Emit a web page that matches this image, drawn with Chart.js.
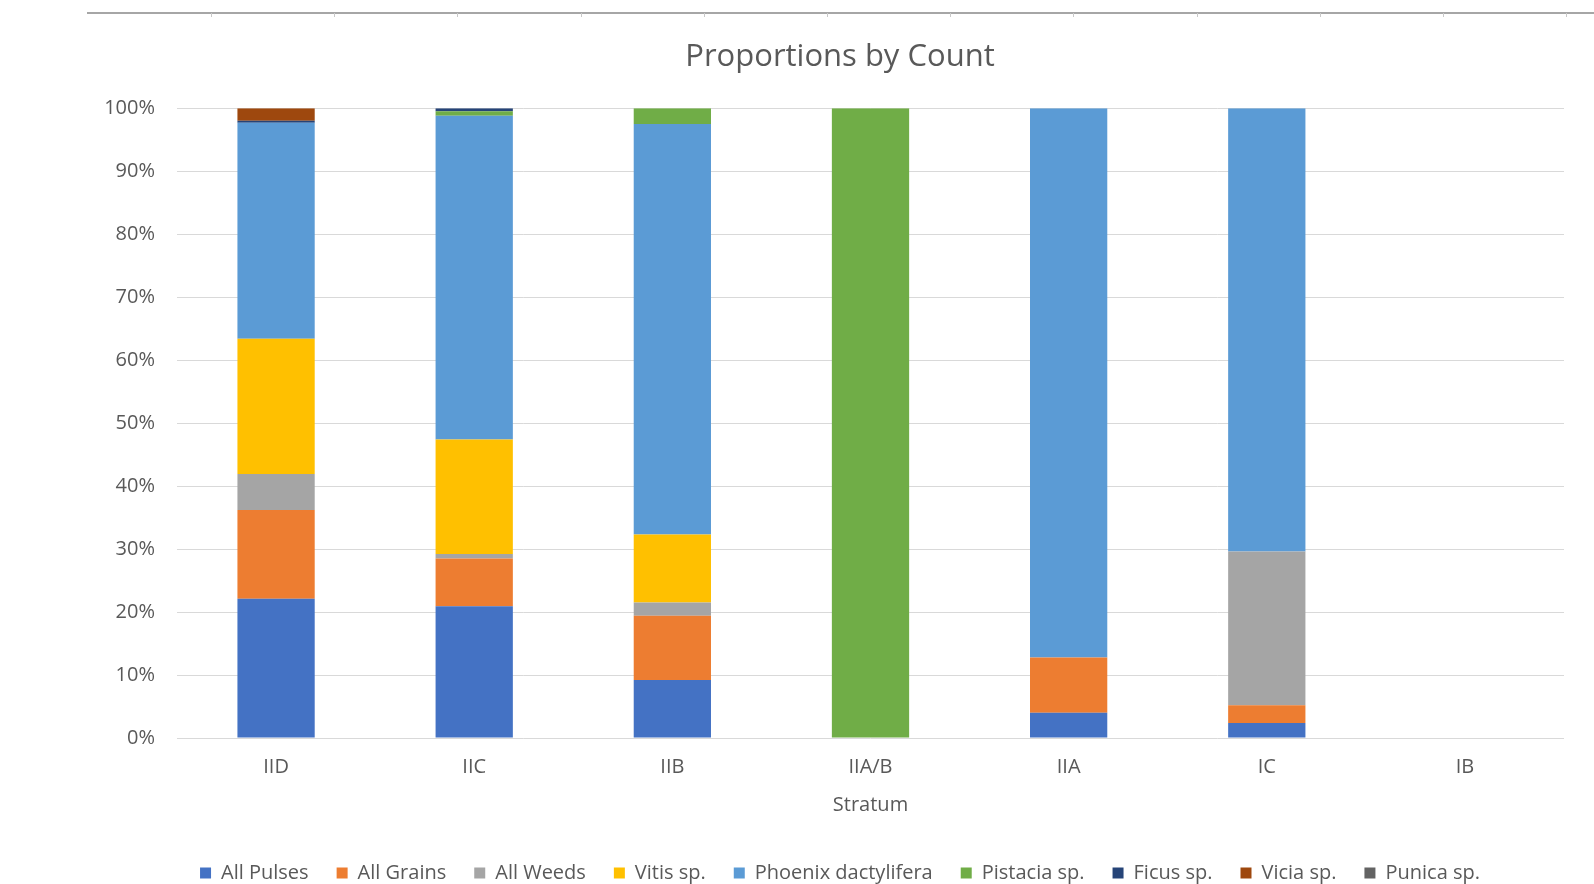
<!DOCTYPE html>
<html>
<head>
<meta charset="utf-8">
<script src="https://cdn.jsdelivr.net/npm/chart.js@4/dist/chart.umd.min.js"></script>
<style>
  html, body { margin: 0; padding: 0; background: #fff; }
  #wrap { width: 1594px; height: 884px; }
</style>
</head>
<body>
<div id="wrap"><canvas id="chart" width="1594" height="884"></canvas></div>
<script>
// Oranlar (%), stratum bazında — resimden okunan tahmini değerler
const strata = ["IID", "IIC", "IIB", "IIA/B", "IIA", "IC", "IB"];

const pulses   = [22.1, 20.9,  9.2,   0,  4.0,  2.4, 0];
const grains   = [14.1,  7.6, 10.2,   0,  8.8,  2.8, 0];
const weeds    = [ 5.7,  0.7,  2.1,   0,    0, 24.4, 0];
const vitis    = [21.5, 18.2, 10.8,   0,    0,    0, 0];
const phoenix  = [34.3, 51.4, 65.2,   0, 87.2, 70.4, 0];
const pistacia = [   0,  0.7,  2.5, 100,    0,    0, 0];
const ficus    = [ 0.3,  0.5,    0,   0,    0,    0, 0];
const vicia    = [ 2.0,    0,    0,   0,    0,    0, 0];
const punica   = [   0,    0,    0,   0,    0,    0, 0];

const yTicks = [0, 10, 20, 30, 40, 50, 60, 70, 80, 90, 100];

const FONT = "'Open Sans', sans-serif";
const TXT = "#595959";

// sayfanın üstündeki ince cetvel çizgisi (ekran görüntüsü artığı)
const rulerPlugin = {
  id: "ruler",
  beforeDraw(chart) {
    const ctx = chart.ctx;
    ctx.save();
    ctx.fillStyle = "#fff";
    ctx.fillRect(0, 0, chart.width, chart.height);
    ctx.strokeStyle = "#a6a6a6";
    ctx.lineWidth = 2;
    ctx.beginPath();
    ctx.moveTo(87, 13);
    ctx.lineTo(chart.width, 13);
    ctx.stroke();
    ctx.lineWidth = 1;
    ctx.strokeStyle = "#c8c8c8";
    for (let x = 211; x < chart.width; x += 123.2) {
      ctx.beginPath();
      ctx.moveTo(Math.round(x) + 0.5, 13);
      ctx.lineTo(Math.round(x) + 0.5, 17);
      ctx.stroke();
    }
    ctx.restore();
  }
};

// y ekseni dar tutuldu (başlık ortalaması için); etiketler kırpılmasın diye sol kenarı genişlet
const labelRoomPlugin = {
  id: "labelRoom",
  afterLayout(chart) {
    chart.scales.y.left = 60;
  }
};

function ds(label, data, color) {
  return { label, data, backgroundColor: color, borderWidth: 0,
           barPercentage: 0.39, categoryPercentage: 1 };
}

// başlık + lejant ~840 px'de ortalansın diye sol boşluk
const LEFT_PAD = 116;

new Chart(document.getElementById("chart"), {
  type: "bar",
  data: {
    labels: strata,
    datasets: [
      ds("All Pulses", pulses, "#4472C4"),
      ds("All Grains", grains, "#ED7D31"),
      ds("All Weeds", weeds, "#A5A5A5"),
      ds("Vitis sp.", vitis, "#FFC000"),
      ds("Phoenix dactylifera", phoenix, "#5B9BD5"),
      ds("Pistacia sp.", pistacia, "#70AD47"),
      ds("Ficus sp.", ficus, "#264478"),
      ds("Vicia sp.", vicia, "#9E480E"),
      ds("Punica sp.", punica, "#636363"),
    ],
  },
  options: {
    responsive: false,
    animation: false,
    layout: { padding: { left: LEFT_PAD, right: 30, top: 0, bottom: -9 } },
    plugins: {
      title: {
        display: true,
        text: "Proportions by Count",
        color: TXT,
        font: { family: FONT, size: 31, weight: "normal" },
        padding: { top: 39, bottom: 32 },
      },
      legend: {
        position: "bottom",
        labels: {
          color: TXT,
          font: { family: FONT, size: 20 },
          boxWidth: 11, boxHeight: 11,
          padding: 28,
        },
      },
      tooltip: { enabled: false },
    },
    scales: {
      x: {
        stacked: true,
        grid: { display: false, drawTicks: false },
        border: { display: false },
        ticks: { color: TXT, font: { family: FONT, size: 20 }, padding: 17 },
        title: {
          display: true, text: "Stratum", color: TXT,
          font: { family: FONT, size: 20 }, padding: { top: 0, bottom: 18 },
        },
        afterFit(scale) { scale.height = 97; },
      },
      y: {
        stacked: true,
        min: 0, max: 100,
        afterBuildTicks(scale) { scale.ticks = yTicks.map(v => ({ value: v })); },
        grid: { color: "#d9d9d9", drawTicks: false, lineWidth: 1 },
        border: { display: false },
        ticks: {
          color: TXT, font: { family: FONT, size: 20 }, padding: 22,
          callback: v => v + "%",
        },
        afterFit(scale) { scale.width = 177 - LEFT_PAD; },
      },
    },
  },
  plugins: [rulerPlugin, labelRoomPlugin],
});
</script>
</body>
</html>
